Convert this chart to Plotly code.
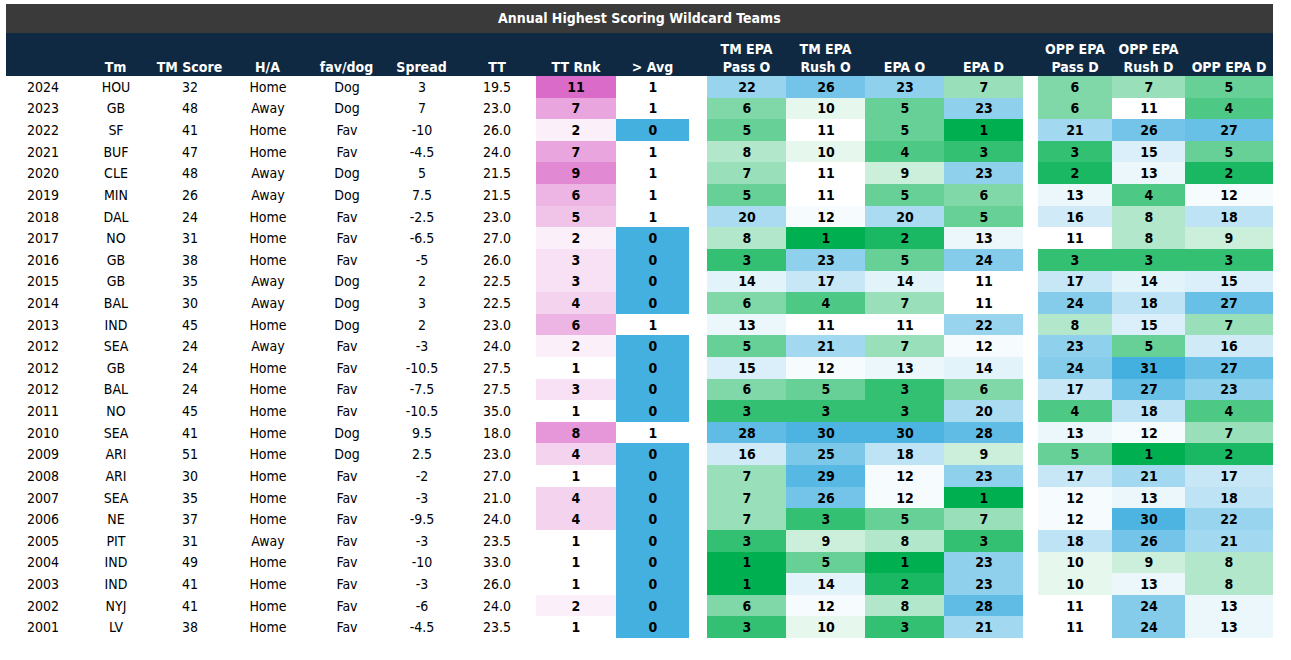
import plotly.graph_objects as go

# ---- data ----
years = [2024, 2023, 2022, 2021, 2020, 2019, 2018, 2017, 2016, 2015, 2014, 2013, 2012,
         2012, 2012, 2011, 2010, 2009, 2008, 2007, 2006, 2005, 2004, 2003, 2002, 2001]
teams = ["HOU", "GB", "SF", "BUF", "CLE", "MIN", "DAL", "NO", "GB", "GB", "BAL", "IND", "SEA",
         "GB", "BAL", "NO", "SEA", "ARI", "ARI", "SEA", "NE", "PIT", "IND", "IND", "NYJ", "LV"]
tm_score = [32, 48, 41, 47, 48, 26, 24, 31, 38, 35, 30, 45, 24,
            24, 24, 45, 41, 51, 30, 35, 37, 31, 49, 41, 41, 38]
home_away = ["Home", "Away", "Home", "Home", "Away", "Away", "Home", "Home", "Home", "Away",
             "Away", "Home", "Away", "Home", "Home", "Home", "Home", "Home", "Home", "Home",
             "Home", "Away", "Home", "Home", "Home", "Home"]
fav_dog = ["Dog", "Dog", "Fav", "Fav", "Dog", "Dog", "Fav", "Fav", "Fav", "Dog", "Dog", "Dog",
           "Fav", "Fav", "Fav", "Fav", "Dog", "Dog", "Fav", "Fav", "Fav", "Fav", "Fav", "Fav",
           "Fav", "Fav"]
spread = [3, 7, -10, -4.5, 5, 7.5, -2.5, -6.5, -5, 2, 3, 2, -3,
          -10.5, -7.5, -10.5, 9.5, 2.5, -2, -3, -9.5, -3, -10, -3, -6, -4.5]
team_total = [19.5, 23.0, 26.0, 24.0, 21.5, 21.5, 23.0, 27.0, 26.0, 22.5, 22.5, 23.0, 24.0,
              27.5, 27.5, 35.0, 18.0, 23.0, 27.0, 21.0, 24.0, 23.5, 33.0, 26.0, 24.0, 23.5]
tt_rank = [11, 7, 2, 7, 9, 6, 5, 2, 3, 3, 4, 6, 2, 1, 3, 1, 8, 4, 1, 4, 4, 1, 1, 1, 2, 1]
above_avg = [1, 1, 0, 1, 1, 1, 1, 0, 0, 0, 0, 1, 0, 0, 0, 0, 1, 0, 0, 0, 0, 0, 0, 0, 0, 0]

tm_pass_o = [22, 6, 5, 8, 7, 5, 20, 8, 3, 14, 6, 13, 5, 15, 6, 3, 28, 16, 7, 7, 7, 3, 1, 1, 6, 3]
tm_rush_o = [26, 10, 11, 10, 11, 11, 12, 1, 23, 17, 4, 11, 21, 12, 5, 3, 30, 25, 29, 26, 3, 9, 5, 14, 12, 10]
epa_o = [23, 5, 5, 4, 9, 5, 20, 2, 5, 14, 7, 11, 7, 13, 3, 3, 30, 18, 12, 12, 5, 8, 1, 2, 8, 3]
epa_d = [7, 23, 1, 3, 23, 6, 5, 13, 24, 11, 11, 22, 12, 14, 6, 20, 28, 9, 23, 1, 7, 3, 23, 23, 28, 21]
opp_pass_d = [6, 6, 21, 3, 2, 13, 16, 11, 3, 17, 24, 8, 23, 24, 17, 4, 13, 5, 17, 12, 12, 18, 10, 10, 11, 11]
opp_rush_d = [7, 11, 26, 15, 13, 4, 8, 8, 3, 14, 18, 15, 5, 31, 27, 18, 12, 1, 21, 13, 30, 26, 9, 13, 24, 24]
opp_epa_d = [5, 4, 27, 5, 2, 12, 18, 9, 3, 15, 27, 7, 16, 27, 23, 4, 7, 2, 17, 18, 22, 21, 8, 8, 13, 13]

headers = ["", "Tm", "TM Score", "H/A", "fav/dog", "Spread", "TT", "TT Rnk", "> Avg",
           "TM EPA<br>Pass O", "TM EPA<br>Rush O", "EPA O", "EPA D",
           "OPP EPA<br>Pass D", "OPP EPA<br>Rush D", "OPP EPA D"]
title = "Annual Highest Scoring Wildcard Teams"

# ---- layout (pixels) ----
W, H = 1291, 660
X0, X1 = 6, 1273
TITLE_TOP, HEAD_TOP, BODY_TOP, BODY_BOT = 4, 33, 76, 638
# column edges, one group per block of adjacent cells (the blanks between are spacer columns)
LEFT_EDGES = [6, 79, 152, 227, 308, 385, 458, 536]
RNK_EDGES = [536, 616]
AVG_EDGES = [616, 689]
TM_EDGES = [707, 786, 865, 944, 1023]
OPP_EDGES = [1038, 1112, 1185, 1273]

GREEN, WHITE, BLUE, PINK = "#00b050", "#ffffff", "#44b0e0", "#da6bc8"
FONT = "Liberation Sans Narrow, DejaVu Sans Condensed, Roboto, Arial, sans-serif"
NAVY = "#0f2942"
FS = 14

n = len(years)
rows = list(range(n))
epa_scale = [[0, GREEN], [10 / 30, WHITE], [1, BLUE]]   # 1 -> green, 11 -> white, 31 -> blue


def centers(edges):
    return [(a + b) / 2 for a, b in zip(edges[:-1], edges[1:])]


def transpose(cols):
    return [list(r) for r in zip(*cols)]


fig = go.Figure()

left_text = transpose([
    [str(v) for v in years], teams, [str(v) for v in tm_score], home_away, fav_dog,
    [f"{v:g}" for v in spread], [f"{v:.1f}" for v in team_total],
])
fig.add_trace(go.Heatmap(
    x=LEFT_EDGES, y=rows, z=[[0] * 7 for _ in rows], text=left_text,
    texttemplate="%{text}", colorscale=[[0, WHITE], [1, WHITE]], showscale=False,
    textfont=dict(family=FONT, size=FS, color="black"), hoverinfo="skip",
))

blocks = [
    (RNK_EDGES, [tt_rank], [[0, WHITE], [1, PINK]], 1, 11),
    (AVG_EDGES, [above_avg], [[0, BLUE], [1, WHITE]], 0, 1),
    (TM_EDGES, [tm_pass_o, tm_rush_o, epa_o, epa_d], epa_scale, 1, 31),
    (OPP_EDGES, [opp_pass_d, opp_rush_d, opp_epa_d], epa_scale, 1, 31),
]
for edges, cols, scale, lo, hi in blocks:
    fig.add_trace(go.Heatmap(
        x=edges, y=rows, z=transpose(cols), zmin=lo, zmax=hi,
        colorscale=scale, showscale=False, texttemplate="<b>%{z}</b>",
        textfont=dict(family=FONT, size=FS, color="black"), hoverinfo="skip",
    ))

tick_x = centers(LEFT_EDGES) + centers(RNK_EDGES) + centers(AVG_EDGES) + centers(TM_EDGES) + centers(OPP_EDGES)

body_h = BODY_BOT - BODY_TOP
to_py = lambda px: 1 + (BODY_TOP - px) / body_h   # pixel row -> paper y

fig.add_shape(type="rect", xref="paper", yref="paper", x0=0, x1=1,
              y0=to_py(BODY_TOP), y1=to_py(HEAD_TOP), fillcolor=NAVY, line_width=0, layer="below")
fig.add_shape(type="rect", xref="paper", yref="paper", x0=0, x1=1,
              y0=to_py(HEAD_TOP), y1=to_py(TITLE_TOP), fillcolor="#3a3a3a", line_width=0, layer="below")
fig.add_annotation(text=f"<b>{title}</b>", xref="paper", yref="paper", x=0.5,
                   y=to_py((TITLE_TOP + HEAD_TOP) / 2), yanchor="middle", showarrow=False,
                   font=dict(family=FONT, size=FS, color="white"))

fig.update_xaxes(range=[X0, X1], side="top", tickvals=tick_x,
                 ticktext=[f"<b>{h}</b>" for h in headers], ticks="", automargin=False,
                 tickfont=dict(family=FONT, size=FS, color="white"),
                 showgrid=False, zeroline=False, showline=False, fixedrange=True)
fig.update_yaxes(range=[n - 0.5, -0.5], visible=False, fixedrange=True, automargin=False)

fig.update_layout(
    width=W, height=H,
    margin=dict(l=X0, r=W - X1, t=BODY_TOP, b=H - BODY_BOT, pad=0, autoexpand=False),
    paper_bgcolor="white", plot_bgcolor="white", showlegend=False,
)

fig.write_html("out.html", config={"displayModeBar": False},
               post_script="document.body.style.margin='0px';")
